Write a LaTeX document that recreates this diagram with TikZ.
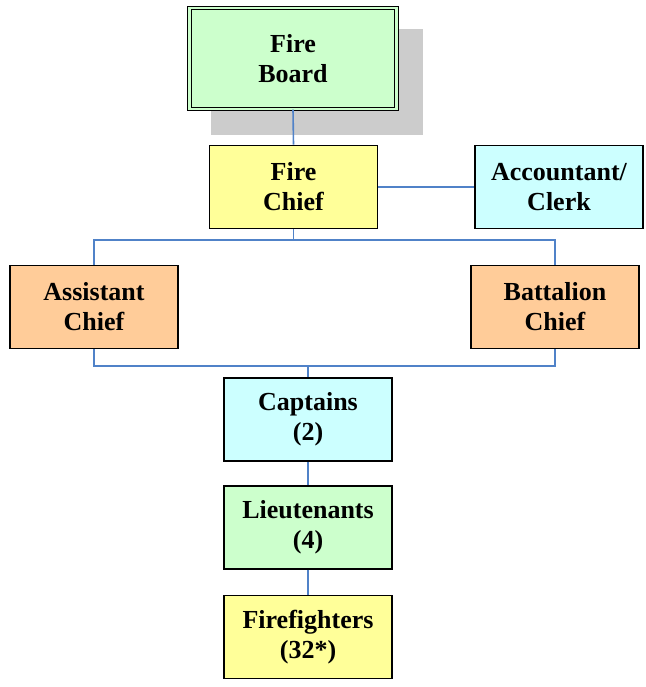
\documentclass[tikz,border=0pt]{standalone}
\usepackage{fontspec}
\setmainfont{Liberation Serif}
\definecolor{cgreen}{HTML}{CCFFCC}
\definecolor{cyellow}{HTML}{FFFF99}
\definecolor{ccyan}{HTML}{CCFFFF}
\definecolor{corange}{HTML}{FFCC99}
\definecolor{clink}{HTML}{5082C8}
\definecolor{cshadow}{HTML}{CCCCCC}
\tikzset{
  box/.style={draw=black, line width=1.6pt, align=center, inner sep=0pt,
    minimum width=168pt, minimum height=83pt,
    font=\fontsize{26}{30}\selectfont\bfseries},
  link/.style={draw=clink, line width=1.6pt},
  shadowbox/.style={fill=cshadow},
}
\begin{document}
\begin{tikzpicture}[x=1pt,y=-1pt]
\useasboundingbox (0,0) rectangle (645,687);
% shadow of the board
\fill[shadowbox] (211,29) rectangle (423,135);
% nodes
\node[box, fill=cgreen, double=cgreen, double distance=2.6pt, line width=1.1pt,
      minimum width=207pt, minimum height=101pt]
      (board) at (293,58.5) {Fire\\Board};
\node[box, fill=cyellow] (chief) at (293.5,187) {Fire\\Chief};
\node[box, fill=ccyan] (acct) at (559,187) {Accountant/\\Clerk};
\node[box, fill=corange] (asst) at (94,307) {Assistant\\Chief};
\node[box, fill=corange] (batt) at (555,307) {Battalion\\Chief};
\node[box, fill=ccyan] (capt) at (308,419.5) {Captains\\(2)};
\node[box, fill=cgreen] (lieu) at (308,527.5) {Lieutenants\\(4)};
\node[box, fill=cyellow] (ff) at (308,637) {Firefighters\\(32*)};
% bus coordinates
\coordinate (bus1) at (293.5,240);
\coordinate (bus2) at (308,366);
% connectors
\draw[link] (board.south) -- (chief.north);
\draw[link] (chief.east) -- (acct.west);
\draw[link] (chief.south) -- (bus1);
\draw[link] (asst.north) |- (bus1) -| (batt.north);
\draw[link] (asst.south) |- (bus2) -| (batt.south);
\draw[link] (bus2) -- (capt.north);
\draw[link] (capt.south) -- (lieu.north);
\draw[link] (lieu.south) -- (ff.north);
\end{tikzpicture}
\end{document}
